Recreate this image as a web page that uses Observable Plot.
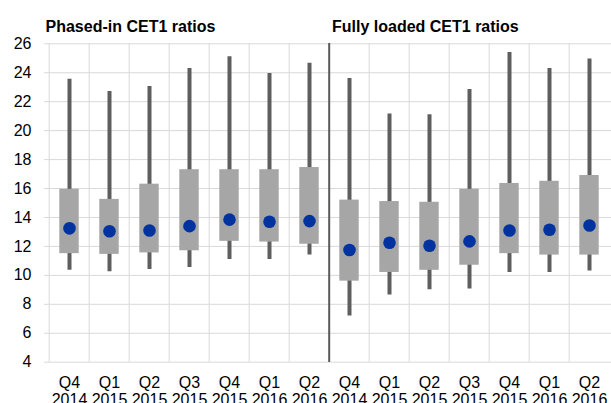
<!DOCTYPE html>
<html>
<head>
<meta charset="utf-8">
<script src="https://cdn.jsdelivr.net/npm/d3@7"></script>
<script src="https://cdn.jsdelivr.net/npm/@observablehq/plot@0.6"></script>
<style>
  html, body { margin: 0; padding: 0; background: #fff; }
  #chart { width: 611px; height: 403px; overflow: hidden; }
</style>
</head>
<body>
<div id="chart"></div>
<script>
const quarters = ["Q4\n2014", "Q1\n2015", "Q2\n2015", "Q3\n2015", "Q4\n2015", "Q1\n2016", "Q2\n2016"];
const panelTitles = ["Phased-in CET1 ratios", "Fully loaded CET1 ratios"];
const yTicks = [4, 6, 8, 10, 12, 14, 16, 18, 20, 22, 24, 26];

// Phased-in CET1 ratios
const phasedMin = [10.35, 10.25, 10.4, 10.55, 11.1, 11.1, 11.4];
const phasedBoxLow = [11.5, 11.45, 11.55, 11.7, 12.35, 12.3, 12.15];
const phasedBoxHigh = [15.95, 15.25, 16.3, 17.3, 17.3, 17.3, 17.45];
const phasedMax = [23.55, 22.7, 23.05, 24.3, 25.1, 23.95, 24.65];
const phasedMid = [13.25, 13.05, 13.1, 13.4, 13.85, 13.7, 13.75];

// Fully loaded CET1 ratios
const fullyMin = [7.2, 8.65, 9.0, 9.05, 10.2, 10.2, 10.3];
const fullyBoxLow = [9.6, 10.2, 10.35, 10.7, 11.5, 11.4, 11.4];
const fullyBoxHigh = [15.2, 15.1, 15.05, 15.95, 16.35, 16.5, 16.9];
const fullyMax = [23.6, 21.15, 21.1, 22.85, 25.4, 24.3, 24.95];
const fullyMid = [11.75, 12.25, 12.05, 12.35, 13.1, 13.15, 13.45];

const series = [
  {min: phasedMin, lo: phasedBoxLow, hi: phasedBoxHigh, max: phasedMax, mid: phasedMid},
  {min: fullyMin, lo: fullyBoxLow, hi: fullyBoxHigh, max: fullyMax, mid: fullyMid}
];

const rows = [];
series.forEach((s, p) => {
  quarters.forEach((q, i) => {
    rows.push({key: p + "|" + q, panel: p, min: s.min[i], lo: s.lo[i], hi: s.hi[i], max: s.max[i], mid: s.mid[i]});
  });
});
const keys = rows.map(d => d.key);

const left = 44.3, right = 612.7;
const bw = (right - left) / keys.length;
const font = "Liberation Sans, Arial, sans-serif";

const chart = Plot.plot({
  width: 611,
  height: 403,
  marginLeft: 44,
  marginRight: 0,
  marginTop: 43,
  marginBottom: 41,
  style: {fontFamily: font, fontSize: "16px", color: "#000", background: "#fff"},
  x: {type: "band", domain: keys, range: [left, right], padding: 0},
  y: {domain: [4, 26], range: [361.7, 43.3]},
  marks: [
    Plot.gridY(yTicks, {stroke: "#d9d9d9", strokeOpacity: 1, strokeWidth: 1}),
    Plot.ruleX(keys, {dx: -bw / 2, stroke: "#d9d9d9", strokeOpacity: 1, strokeWidth: 1}),
    Plot.ruleX(rows, {x: "key", y1: "min", y2: "max", stroke: "#5e5e5e", strokeWidth: 4}),
    Plot.barY(rows, {x: "key", y1: "lo", y2: "hi", fill: "#a6a6a6", insetLeft: 10.3, insetRight: 10.3}),
    Plot.dot(rows, {x: "key", y: "mid", r: 6.3, fill: "#0033a0", stroke: "none"}),
    Plot.ruleX([keys[quarters.length]], {dx: -bw / 2, stroke: "#5a5a5a", strokeWidth: 2}),
    Plot.axisY(yTicks, {tickSize: 0, tickPadding: 13, fontSize: 16, label: null, fill: "#000"}),
    Plot.axisX({tickSize: 0, tickPadding: 13, fontSize: 16, label: null, fill: "#000", lineHeight: 1.07,
      tickFormat: d => d.split("|")[1]}),
    Plot.text([panelTitles[0]], {frameAnchor: "top-left", dx: 1, dy: -12, fontSize: 16, fontWeight: "bold", textAnchor: "start", lineAnchor: "bottom", fill: "#000"}),
    Plot.text([panelTitles[1]], {frameAnchor: "top-left", dx: 287.5, dy: -12, fontSize: 16, fontWeight: "bold", textAnchor: "start", lineAnchor: "bottom", fill: "#000"})
  ]
});
document.getElementById("chart").appendChild(chart);
</script>
</body>
</html>
